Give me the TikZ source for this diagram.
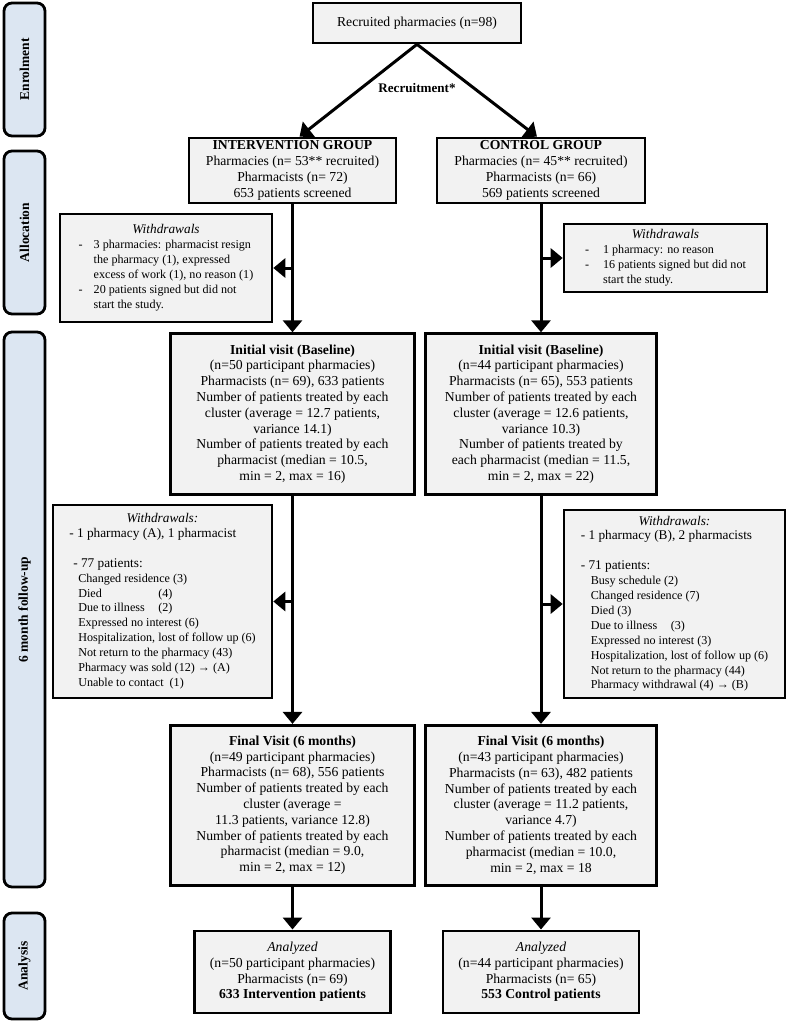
\documentclass[tikz,border=0pt]{standalone}
\usepackage{fontspec}
\setmainfont{Liberation Serif}
\usetikzlibrary{positioning,arrows.meta}

\definecolor{boxgray}{HTML}{F2F2F2}
\definecolor{phaseblue}{HTML}{DCE6F2}

\newcommand{\boxfont}{\fontsize{13.7}{15.8}\selectfont}
\newcommand{\wdfont}{\fontsize{12.1}{14.9}\selectfont}
\newcommand{\headfont}{\fontsize{13.3}{14.9}\selectfont}

\tikzset{
  box/.style={draw, line width=2.6pt, fill=boxgray, align=center, inner sep=2pt, font=\boxfont},
  wd/.style={box, font=\wdfont},
  phase/.style={draw, line width=2.8pt, rounded corners=8pt, fill=phaseblue, rotate=90,
    minimum height=41pt, inner sep=0pt, font=\bfseries\fontsize{13.5}{15}\selectfont},
  arr/.style={line width=3pt, -{Triangle[length=12pt,width=19pt]}},
}

\begin{document}
\begin{tikzpicture}[x=1pt,y=-1pt]
    \useasboundingbox (0,0) rectangle (787,1030);
    % phases
    \node[phase, minimum width=133pt] (enrol)  at (24.5,69.5)  {Enrolment};
    \node[phase, minimum width=163pt] (alloc)  at (24.5,232.5) {Allocation};
    \node[phase, minimum width=555pt] (follow) at (24.5,609.5) {6 month follow-up};
    \node[phase, minimum width=106pt] (anal)   at (24.5,966)   {Analysis};
    % recruitment and groups
    \node[box, minimum width=208pt, minimum height=40pt] (recruit) at (417,23) {Recruited pharmacies (n=98)};
    \node[font=\bfseries\fontsize{13.1}{15}\selectfont, below=36pt of recruit] (rlab) {Recruitment*};
    \node[box, minimum width=207pt, minimum height=65pt] (intv) at (292.5,170.5)
      {\textbf{INTERVENTION GROUP}\\Pharmacies (n= 53** recruited)\\Pharmacists (n= 72)\\653 patients screened};
    \node[box, minimum width=208pt, minimum height=65pt] (ctrl) at (541,170.5)
      {\textbf{CONTROL GROUP}\\Pharmacies (n= 45** recruited)\\Pharmacists (n= 66)\\569 patients screened};
    % baseline
    \node[box, minimum width=244pt, minimum height=161pt, below=128pt of intv] (initI)
      {\textbf{Initial visit (Baseline)}\\(n=50 participant pharmacies)\\Pharmacists (n= 69), 633 patients\\
       Number of patients treated by each\\cluster (average = 12.7 patients,\\variance 14.1)\\
       Number of patients treated by each\\pharmacist (median = 10.5,\\min = 2, max = 16)};
    \node[box, minimum width=231pt, minimum height=161pt, below=128pt of ctrl] (initC)
      {\textbf{Initial visit (Baseline)}\\(n=44 participant pharmacies)\\Pharmacists (n= 65), 553 patients\\
       Number of patients treated by each\\cluster (average = 12.6 patients,\\variance 10.3)\\
       Number of patients treated by\\each pharmacist (median = 11.5,\\min = 2, max = 22)};
    % final visit
    \node[box, minimum width=244pt, minimum height=160pt, below=228pt of initI] (finI)
      {\textbf{Final Visit (6 months)}\\(n=49 participant pharmacies)\\Pharmacists (n= 68), 556 patients\\
       Number of patients treated by each\\cluster (average =\\11.3 patients, variance 12.8)\\
       Number of patients treated by each\\pharmacist (median = 9.0,\\min = 2, max = 12)};
    \node[box, minimum width=231pt, minimum height=160pt, below=228pt of initC] (finC)
      {\textbf{Final Visit (6 months)}\\(n=43 participant pharmacies)\\Pharmacists (n= 63), 482 patients\\
       Number of patients treated by each\\cluster (average = 11.2 patients,\\variance 4.7)\\
       Number of patients treated by each\\pharmacist (median = 10.0,\\min = 2, max = 18};
    % analysis
    \node[box, minimum width=196pt, minimum height=82pt, below=43pt of finI] (anaI)
      {\textit{Analyzed}\\(n=50 participant pharmacies)\\Pharmacists (n= 69)\\\textbf{633 Intervention patients}};
    \node[box, minimum width=196pt, minimum height=82pt, below=43pt of finC] (anaC)
      {\textit{Analyzed}\\(n=44 participant pharmacies)\\Pharmacists (n= 65)\\\textbf{553 Control patients}};
    % withdrawals
    \node[wd, minimum width=212pt, minimum height=108pt] (wdI1) at (166,268) {%
      \begin{tabular}{@{}l@{\hspace{11pt}}l@{}}
        \multicolumn{2}{c}{\headfont\itshape Withdrawals}\\
        - & 3 pharmacies: pharmacist resign\\
          & the pharmacy (1), expressed\\
          & excess of work (1), no reason (1)\\
        - & 20 patients signed but did not\\
          & start the study.
      \end{tabular}};
    \node[wd, minimum width=203pt, minimum height=68pt] (wdC1) at (665.5,258) {%
      \begin{tabular}{@{}l@{\hspace{14pt}}l@{}}
        \multicolumn{2}{c}{\headfont\itshape Withdrawals}\\
        - & 1 pharmacy: no reason\\
        - & 16 patients signed but did not\\
          & start the study.
      \end{tabular}};
    \node[wd, minimum width=219pt, minimum height=193pt] (wdI2) at (162.5,601.5) {%
      \begin{tabular}{@{}l@{}}
        \multicolumn{1}{@{}c@{}}{\headfont\itshape Withdrawals:}\\
        {\headfont - 1 pharmacy (A), 1 pharmacist}\\
        \\
        {\headfont\hspace*{4pt}- 77 patients:}\\
        \hspace*{9pt}Changed residence (3)\\
        \hspace*{9pt}\makebox[80pt][l]{Died}(4)\\
        \hspace*{9pt}\makebox[80pt][l]{Due to illness}(2)\\
        \hspace*{9pt}Expressed no interest (6)\\
        \hspace*{9pt}Hospitalization, lost of follow up (6)\\
        \hspace*{9pt}Not return to the pharmacy (43)\\
        \hspace*{9pt}Pharmacy was sold (12) → (A)\\
        \hspace*{9pt}Unable to contact\ \ (1)
      \end{tabular}};
    \node[wd, minimum width=221pt, minimum height=188pt] (wdC2) at (674.5,604) {%
      \begin{tabular}{@{}l@{}}
        \multicolumn{1}{@{}c@{}}{\headfont\itshape Withdrawals:}\\
        {\headfont - 1 pharmacy (B), 2 pharmacists}\\
        \\
        {\headfont - 71 patients:}\\
        \hspace*{10pt}Busy schedule (2)\\
        \hspace*{10pt}Changed residence (7)\\
        \hspace*{10pt}Died (3)\\
        \hspace*{10pt}\makebox[80pt][l]{Due to illness}(3)\\
        \hspace*{10pt}Expressed no interest (3)\\
        \hspace*{10pt}Hospitalization, lost of follow up (6)\\
        \hspace*{10pt}Not return to the pharmacy (44)\\
        \hspace*{10pt}Pharmacy withdrawal (4) → (B)
      \end{tabular}};
    % connectors
    \draw[arr] (recruit.south) -- ([xshift=7pt]intv.north);
    \draw[arr] (recruit.south) -- ([xshift=-4pt]ctrl.north);
    \draw[arr] (intv.south) -- (initI.north);
    \draw[arr] (ctrl.south) -- (initC.north);
    \draw[arr] (intv.south |- wdI1.east) -- (wdI1.east);
    \draw[arr] (ctrl.south |- wdC1.west) -- (wdC1.west);
    \draw[arr] (initI.south) -- (finI.north);
    \draw[arr] (initC.south) -- (finC.north);
    \draw[arr] (initI.south |- wdI2.east) -- (wdI2.east);
    \draw[arr] (initC.south |- wdC2.west) -- (wdC2.west);
    \draw[arr] (finI.south) -- (anaI.north);
    \draw[arr] (finC.south) -- (anaC.north);
\end{tikzpicture}
\end{document}
